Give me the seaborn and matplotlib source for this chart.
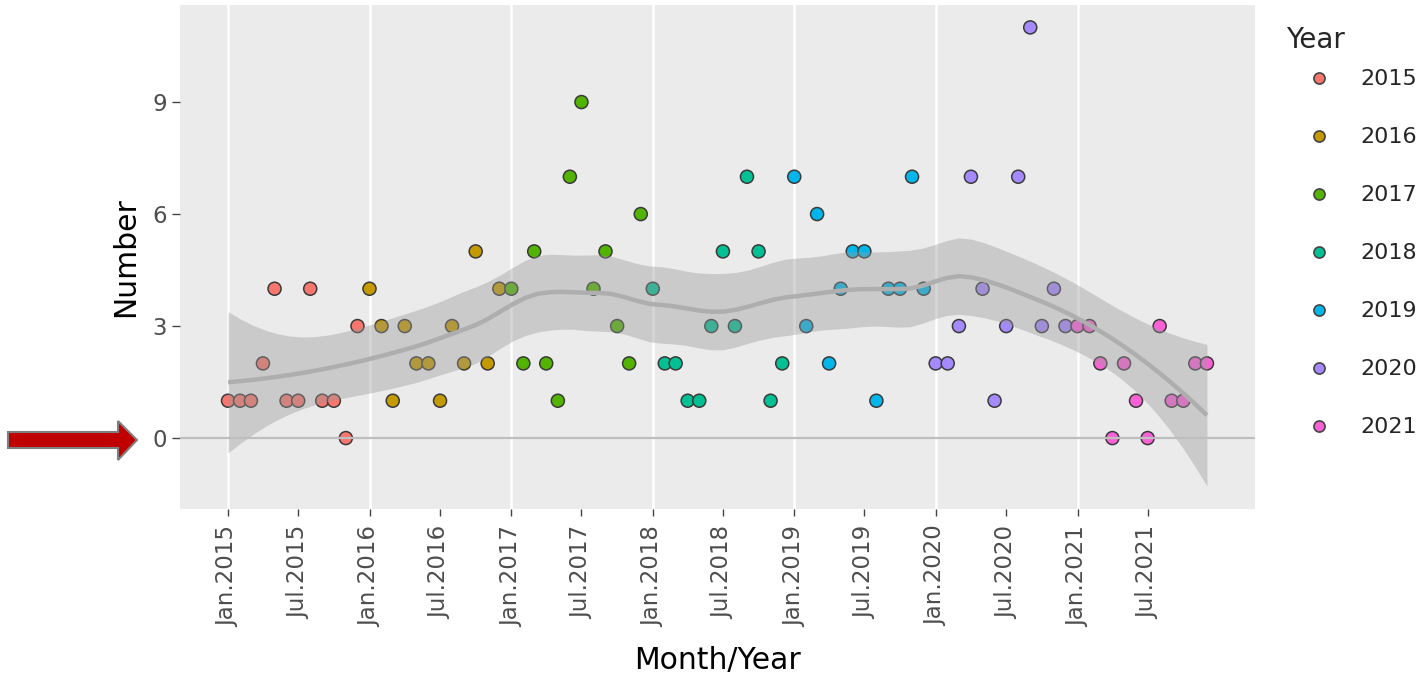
import numpy as np
import pandas as pd
import matplotlib
matplotlib.use("Agg")
import matplotlib.pyplot as plt
import seaborn as sns
from matplotlib.patches import Polygon

# ---------------- data ----------------
years = ["2015", "2016", "2017", "2018", "2019", "2020", "2021"]
n_2015 = [1, 1, 1, 2, 4, 1, 1, 4, 1, 1, 0, 3]
n_2016 = [4, 3, 1, 3, 2, 2, 1, 3, 2, 5, 2, 4]
n_2017 = [4, 2, 5, 2, 1, 7, 9, 4, 5, 3, 2, 6]
n_2018 = [4, 2, 2, 1, 1, 3, 5, 3, 7, 5, 1, 2]
n_2019 = [7, 3, 6, 2, 4, 5, 5, 1, 4, 4, 7, 4]
n_2020 = [2, 2, 3, 7, 4, 1, 3, 7, 11, 3, 4, 3]
n_2021 = [3, 3, 2, 0, 2, 1, 0, 3, 1, 1, 2, 2]
palette = ["#F8766D", "#C49A00", "#53B400", "#00C094", "#00B6EB", "#A58AFF", "#FB61D7"]
x_tick_labels = ["Jan.2015", "Jul.2015", "Jan.2016", "Jul.2016", "Jan.2017", "Jul.2017",
                 "Jan.2018", "Jul.2018", "Jan.2019", "Jul.2019", "Jan.2020", "Jul.2020",
                 "Jan.2021", "Jul.2021"]
y_ticks = [0, 3, 6, 9]

counts = np.concatenate([n_2015, n_2016, n_2017, n_2018, n_2019, n_2020, n_2021]).astype(float)
origin = pd.Timestamp("2015-01-01")
dates = pd.date_range("2015-01-01", periods=len(counts), freq="MS")
xdays = ((dates - origin) / pd.Timedelta(days=1)).values.astype(float)
df = pd.DataFrame({"x": xdays, "Number": counts,
                   "Year": np.repeat(years, 12)})

# ---------------- loess (degree 2, kd-tree interpolation) ----------------
span = 0.5
xs = xdays / 30.4375
y = counts
n = len(xs)
q = int(np.floor(n * span))
fc = int(np.floor(n * span * 0.2))


def local_rows(v):
    d = np.abs(xs - v)
    rho = np.sort(d)[q - 1]
    u = d / rho
    w = np.where(u < 1, (1 - u ** 3) ** 3, 0.0)
    dx = xs - v
    X = np.column_stack([np.ones_like(dx), dx, dx ** 2])
    XtW = X.T * w
    B = np.linalg.pinv(XtW @ X) @ XtW
    return B[0], B[1]


order = np.argsort(xs)
xsorted = xs[order]
rng = xsorted[-1] - xsorted[0]
verts = [xsorted[0] - 0.005 * rng, xsorted[-1] + 0.005 * rng]


def split(l, u):
    if u - l + 1 <= fc:
        return
    m = (l + u) // 2
    verts.append((xsorted[m] + xsorted[m + 1]) / 2)
    split(l, m)
    split(m + 1, u)


split(0, n - 1)
verts = np.array(sorted(verts))
VV, SS = [], []
for v in verts:
    a, b = local_rows(v)
    VV.append(a)
    SS.append(b)
VV = np.array(VV)
SS = np.array(SS)


def interp_rows(xq):
    out = []
    for xv in xq:
        i = np.searchsorted(verts, xv, side="right") - 1
        i = min(max(i, 0), len(verts) - 2)
        v0, v1 = verts[i], verts[i + 1]
        h = (xv - v0) / (v1 - v0)
        phi0 = (1 - h) ** 2 * (1 + 2 * h)
        phi1 = h ** 2 * (3 - 2 * h)
        psi0 = h * (1 - h) ** 2
        psi1 = -h ** 2 * (1 - h)
        out.append(phi0 * VV[i] + phi1 * VV[i + 1] + (psi0 * SS[i] + psi1 * SS[i + 1]) * (v1 - v0))
    return np.array(out)


Ld = interp_rows(xs)
res = y - Ld @ y
Rm = np.eye(n) - Ld
RtR = Rm.T @ Rm
one = np.trace(RtR)
two = np.trace(RtR @ RtR)
sigma = np.sqrt(np.sum(res ** 2) / one)
dof = one ** 2 / two
z = 1.959964
tq = z + (z ** 3 + z) / (4 * dof) + (5 * z ** 5 + 16 * z ** 3 + 3 * z) / (96 * dof ** 2)

xg_m = np.linspace(xs.min(), xs.max(), 80)
Lg = interp_rows(xg_m)
fit = Lg @ y
se = sigma * np.sqrt(np.sum(Lg ** 2, axis=1))
xg = xg_m * 30.4375

# ---------------- plot ----------------
sns.set_theme(style="white")
plt.rcParams["font.family"] = ["DejaVu Sans"]

fig = plt.figure(figsize=(14.24, 6.77), dpi=100)
ax = fig.add_axes([180 / 1424, 1 - 509 / 677, 1075 / 1424, 504 / 677])
ax.set_facecolor("#EBEBEB")
for s in ax.spines.values():
    s.set_visible(False)

tick_pos = [(pd.to_datetime(t, format="%b.%Y") - origin) / pd.Timedelta(days=1) for t in x_tick_labels]
for t, p in zip(x_tick_labels, tick_pos):
    if t.startswith("Jan"):
        ax.axvline(p, color="white", lw=1.8, zorder=0.5)

sns.scatterplot(data=df, x="x", y="Number", hue="Year", palette=palette,
                s=88, edgecolor="#3a3a3a", linewidth=1.1, ax=ax, zorder=2)

ax.fill_between(xg, fit - tq * se, fit + tq * se, color="#999999", alpha=0.4, lw=0, zorder=3)
ax.plot(xg, fit, color="#AEAEAE", lw=3.2, zorder=4, solid_capstyle="butt")
ax.axhline(0, color="#BEBEBE", lw=1.6, zorder=5)

ax.set_xlim(xdays.min() - 124, xdays.max() + 124)
ax.set_ylim(-1.9, 11.6)
ax.set_xticks(tick_pos)
ax.set_xticklabels(x_tick_labels)
ax.set_yticks(y_ticks)
ax.set_yticklabels([str(v) for v in y_ticks])
ax.tick_params(axis="x", labelrotation=90, length=5, width=1, color="#444444",
               labelcolor="#4D4D4D", labelsize=16.5, pad=7, bottom=True)
ax.tick_params(axis="y", length=5.5, width=1, color="#444444",
               labelcolor="#4D4D4D", labelsize=16.5, pad=4, left=True)
ax.grid(False)

ax.set_xlabel("Month/Year", fontsize=21.5, color="black")
ax.set_ylabel("Number", fontsize=21.5, color="black")
ax.xaxis.set_label_coords(0.5, -0.30)
ax.xaxis.label.set_va("center")
ax.yaxis.set_label_coords(-0.051, 0.5)
ax.yaxis.label.set_va("center")

handles, labels = ax.get_legend_handles_labels()
if ax.legend_ is not None:
    ax.legend_.remove()
for h in handles:
    h.set_markersize(8)
    h.set_markeredgecolor("#444444")
    h.set_markeredgewidth(1.2)
leg = fig.legend(handles, labels, title="Year", loc="upper left",
                 bbox_to_anchor=(1266 / 1424, 1 - 6 / 677), frameon=False,
                 fontsize=16, title_fontsize=20, labelspacing=1.71,
                 handlelength=3.0, handletextpad=0.35, alignment="left", borderpad=0.4)
leg._legend_box.sep = 11

# annotation arrow pointing at zero
ov = fig.add_axes([0, 0, 1, 1], zorder=10)
ov.set_xlim(0, 1424)
ov.set_ylim(677, 0)
ov.axis("off")
arrow = Polygon([(8, 432), (118, 432), (118, 421), (137, 440), (118, 460), (118, 448), (8, 448)],
                closed=True, facecolor="#C00000", edgecolor="#7F7F7F", lw=1.5)
ov.add_patch(arrow)

fig.savefig("out.png", dpi=100)
